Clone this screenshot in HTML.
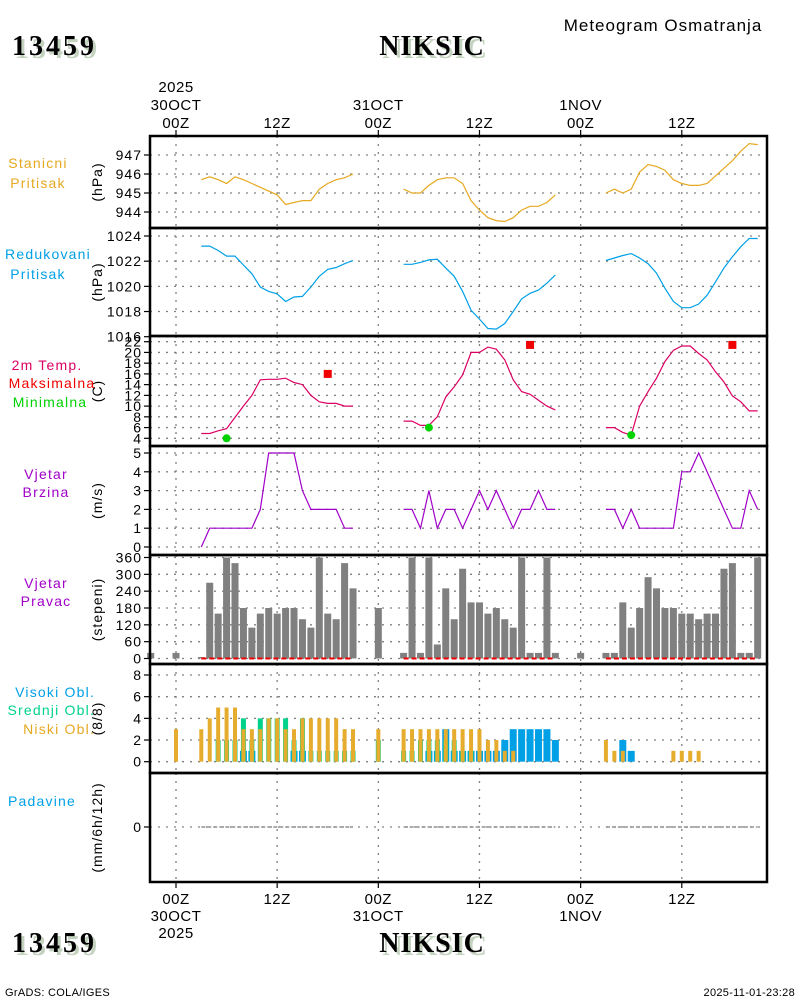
<!DOCTYPE html>
<html><head><meta charset="utf-8"><style>
html,body{margin:0;padding:0;background:#fff;}
svg{display:block;font-family:"Liberation Sans",sans-serif;}
</style></head><body>
<svg id="chart" width="800" height="1000" viewBox="0 0 800 1000" xmlns="http://www.w3.org/2000/svg">
<g id="g-grid"></g>
<g id="g-data"></g>
<g id="g-frame"></g>
<g id="g-text"></g>
</svg>
<script>
// ---- data (hourly, hours from 3 to 69 unless noted) ----
const seriesStartHour = 3;
const stationPressure = [945.7,945.85,945.7,945.5,945.85,945.7,945.5,945.3,945.1,944.9,944.4,944.5,944.6,944.6,945.2,945.5,945.7,945.8,946.0,
 null,null,null,null,null,
 945.2,945.0,945.0,945.4,945.7,945.8,945.8,945.5,944.6,944.1,943.7,943.55,943.5,943.7,944.1,944.3,944.3,944.5,944.9,
 null,null,null,null,null,
 945.0,945.2,945.0,945.2,946.1,946.5,946.4,946.2,945.7,945.5,945.4,945.4,945.5,945.9,946.3,946.7,947.2,947.6,947.55];
const reducedPressure = [1023.2,1023.2,1022.85,1022.4,1022.4,1021.7,1021.0,1019.95,1019.6,1019.4,1018.8,1019.15,1019.2,1019.95,1020.8,1021.35,1021.5,1021.8,1022.05,
 null,null,null,null,null,
 1021.75,1021.75,1021.9,1022.1,1022.15,1021.45,1020.8,1019.6,1018.1,1017.4,1016.65,1016.6,1017.05,1018.0,1019.0,1019.45,1019.7,1020.25,1020.9,
 null,null,null,null,null,
 1022.05,1022.25,1022.45,1022.6,1022.25,1021.8,1021.05,1019.85,1018.8,1018.3,1018.3,1018.6,1019.3,1020.35,1021.45,1022.35,1023.15,1023.8,1023.8];
const temperature = [4.9,4.9,5.4,5.8,7.9,10,12,14.9,15,15,15.2,14.4,14.0,12,10.8,10.5,10.5,10,10,
 null,null,null,null,null,
 7.2,7.2,6.4,6.4,8,11.7,13.6,15.8,20,20,21,20.6,18.6,14.9,12.7,12.2,11.1,10,9.3,
 null,null,null,null,null,
 6,6,5.1,4.6,10,12.7,15.2,18.3,20.4,21.2,21.2,19.8,18.6,16.4,14.5,11.9,10.8,9.1,9.1];
const windSpeed = [0,1,1,1,1,1,1,2,5,5,5,5,3,2,2,2,2,1,1,
 null,null,null,null,null,
 2,2,1,3,1,2,2,1,2,3,2,3,2,1,2,2,3,2,2,
 null,null,null,null,null,
 2,2,1,2,1,1,1,1,1,4,4,5,4,3,2,1,1,3,2];
const maxTempHours = [18,42,66];
const maxTempValues = [16,21.4,21.4];
const minTempHours = [6,30,54];
const minTempValues = [4,6,4.6];
// wind direction & clouds: hourly from -3 to 69
const dirStartHour = -3;
const windDir = [20,null,null,20,null,null,5,270,160,360,340,180,110,160,180,160,180,180,140,110,360,160,140,340,250,
 null,null,180,null,null,20,360,20,360,50,250,140,320,200,200,160,180,140,110,360,20,20,360,20,
 null,null,20,null,null,20,20,200,110,180,290,250,180,180,160,160,140,160,160,320,340,20,20,360];
const cloudLow  = [0,0,0,3,0,0,3,4,5,5,5,3,3,3,4,4,3,3,4,4,4,4,4,3,3,0,0,3,0,0,3,3,3,3,3,3,3,3,3,3,2,2,1,1,0,0,0,0,0,0,0,0,0,0,2,1,1,0,0,0,0,0,1,1,1,1,0,0,0,0,0,0,0];
const cloudMid  = [0,0,0,0,0,0,0,0,2,2,2,4,2,4,4,4,4,2,4,1,1,1,1,1,1,0,0,2,0,0,1,1,2,2,2,2,2,1,1,0,0,0,0,0,0,0,0,0,0,0,0,0,0,0,0,0,0,0,0,0,0,0,0,0,0,0,0,0,0,0,0,0,0];
const cloudHigh = [0,0,0,0,0,0,0,0,0,0,0,1,1,0,0,0,0,1,1,0,0,0,0,0,0,0,0,0,0,0,0,0,0,1,1,3,1,1,1,1,1,1,2,3,3,3,3,3,2,0,0,0,0,0,0,0,2,1,0,0,0,0,0,0,0,0,0,0,0,0,0,0,0];
const precipHours = [[3,21],[27,45],[51,69]];
const timeTicks = [0,12,24,36,48,60];
const timeLabelsTop = [["2025","30OCT","00Z"],["","","12Z"],["","31OCT","00Z"],["","","12Z"],["","1NOV","00Z"],["","","12Z"]];
const timeLabelsBottom = [["00Z","30OCT","2025"],["12Z","",""],["00Z","31OCT",""],["12Z","",""],["00Z","1NOV",""],["12Z","",""]];

// ---- geometry ----
const L=150,R=767;
const xh = h => 176 + h*8.43;
const panels = [
 {top:136,bot:228, min:944,max:947, y0:212,y1:155, ticks:[944,945,946,947], unit:"(hPa)"},
 {top:228,bot:336, min:1016,max:1024, y0:336.7,y1:236, ticks:[1016,1018,1020,1022,1024], unit:"(hPa)"},
 {top:336,bot:446, min:4,max:22, y0:438.3,y1:341.7, ticks:[4,6,8,10,12,14,16,18,20,22], unit:"(C)"},
 {top:446,bot:555, min:0,max:5, y0:547,y1:453, ticks:[0,1,2,3,4,5], unit:"(m/s)"},
 {top:555,bot:664, min:0,max:360, y0:658.5,y1:557.5, ticks:[0,60,120,180,240,300,360], unit:"(stepeni)"},
 {top:664,bot:773, min:0,max:8, y0:761.7,y1:675, ticks:[0,2,4,6,8], unit:"(8/8)"},
 {top:773,bot:882, min:0,max:1, y0:827,y1:800, ticks:[0], unit:"(mm/6h/12h)"}
];
panels.forEach(p=>{p.y=v=>p.y0+(v-p.min)*(p.y1-p.y0)/(p.max-p.min);});
const NS="http://www.w3.org/2000/svg";
function mk(parent,tag,attrs,text){const e=document.createElementNS(NS,tag);for(const k in attrs)e.setAttribute(k,attrs[k]);if(text!==undefined)e.textContent=text;parent.appendChild(e);return e;}
const gG=document.getElementById('g-grid'),gD=document.getElementById('g-data'),gF=document.getElementById('g-frame'),gT=document.getElementById('g-text');

// grid
panels.forEach((p,i)=>{
  timeTicks.forEach(h=>{const e=mk(gG,'line',{x1:xh(h),x2:xh(h),y1:p.top,y2:p.bot,stroke:'#808080','stroke-width':1.3,'stroke-dasharray':'2,6'});
    
    });
  p.ticks.forEach(t=>{const y=p.y(t);
    if(y<p.bot+1){const e=mk(gG,'line',{x1:L,x2:R,y1:y,y2:y,stroke:'#808080','stroke-width':1.3,'stroke-dasharray':'2,6'});
    
    }
    const tk=mk(gF,'line',{x1:144,x2:L,y1:y,y2:y,stroke:'#000','stroke-width':1.2});
    
    
    const lb=mk(gT,'text',{x:142,y:y+5,'text-anchor':'end','font-size':14,'letter-spacing':1,fill:'#000'},String(t));
    
    
  });
  const cy=(p.top+p.bot)/2;
  const u=mk(gT,'text',{x:0,y:0,'text-anchor':'middle','font-size':14,'letter-spacing':1,fill:'#000',transform:`translate(102,${cy}) rotate(-90)`},p.unit);
  
  
});

// line series
function drawLine(p,arr,color,name){
  let d='',pen=false;
  arr.forEach((v,i)=>{const h=seriesStartHour+i;if(v===null){pen=false;return;}
    d+=(pen?'L':'M')+xh(h).toFixed(1)+','+p.y(v).toFixed(1)+' ';pen=true;});
  const e=mk(gD,'path',{d:d,fill:'none',stroke:color,'stroke-width':1.2});
  
  
}
drawLine(panels[0],stationPressure,'#e6a820','station-pressure-line');
drawLine(panels[1],reducedPressure,'#00a0e6','reduced-pressure-line');
drawLine(panels[2],temperature,'#dc0064','temperature-line');
drawLine(panels[3],windSpeed,'#a000c8','wind-speed-line');
maxTempHours.forEach((h,i)=>{const e=mk(gD,'rect',{x:xh(h)-4,y:panels[2].y(maxTempValues[i])-4,width:8,height:8,fill:'#f00000'});
  
  });
minTempHours.forEach((h,i)=>{const e=mk(gD,'circle',{cx:xh(h),cy:panels[2].y(minTempValues[i]),r:4,fill:'#00d200'});
  
  });

// wind direction bars
const pd=panels[4];
windDir.forEach((v,i)=>{if(v===null)return;const h=dirStartHour+i;const y=pd.y(v);
  const e=mk(gD,'rect',{x:xh(h)-3.5,y:y,width:7,height:Math.max(pd.y0-y,1),fill:'#808080'});
  
  });
precipHours.forEach(s=>{
  const e=mk(gD,'line',{x1:xh(s[0]),x2:xh(s[1]),y1:pd.y0,y2:pd.y0,stroke:'#f00000','stroke-width':2,'stroke-dasharray':'5,3'});
  
  
  const pp=panels[6];
  const f=mk(gD,'line',{x1:xh(s[0]),x2:xh(s[1]),y1:pp.y0,y2:pp.y0,stroke:'#909090','stroke-width':1.5,'stroke-dasharray':'4,2'});
  
  
});

// clouds
const pc=panels[5];
function cloudBars(arr,color,off,w,name){arr.forEach((v,i)=>{if(!v)return;const h=dirStartHour+i;const y=pc.y(v);
  const e=mk(gD,'rect',{x:xh(h)+off,y:y,width:w,height:pc.y0-y,fill:color});
  
  });}
cloudBars(cloudHigh,'#00a0e6',-3.5,7,'high-cloud-bar');
cloudBars(cloudMid,'#00d28c',-2.5,5,'mid-cloud-bar');
cloudBars(cloudLow,'#e6ac2e',-2,4,'low-cloud-bar');

// frames
panels.forEach(p=>{const e=mk(gF,'rect',{x:L,y:p.top,width:R-L,height:p.bot-p.top,fill:'none',stroke:'#000','stroke-width':2.5});
  
  });
timeTicks.forEach((h,i)=>{
  const a=mk(gF,'line',{x1:xh(h),x2:xh(h),y1:130,y2:136,stroke:'#000','stroke-width':1.2});
  
  
  const b=mk(gF,'line',{x1:xh(h),x2:xh(h),y1:882,y2:888,stroke:'#000','stroke-width':1.2});
  
  
  timeLabelsTop[i].forEach((s,k)=>{if(!s)return;const t=mk(gT,'text',{x:xh(h),y:92+k*18,'text-anchor':'middle','font-size':15,'letter-spacing':0.5,fill:'#000'},s);
    
    });
  timeLabelsBottom[i].forEach((s,k)=>{if(!s)return;const t=mk(gT,'text',{x:xh(h),y:904+k*17,'text-anchor':'middle','font-size':15,'letter-spacing':0.5,fill:'#000'},s);
    
    });
});
</script>
<svg width="800" height="1000" style="position:absolute;left:0;top:0" xmlns="http://www.w3.org/2000/svg">
<g font-family="Liberation Sans, sans-serif" font-size="14" letter-spacing="1.2">
<text x="663" y="31" text-anchor="middle" font-size="17" letter-spacing="1">Meteogram Osmatranja</text>
<g font-family="Liberation Serif, serif" font-weight="bold" font-size="28" letter-spacing="3">
<text x="15" y="58" fill="#c4d2c0">13459</text>
<text x="12" y="55" fill="#000">13459</text>
<text x="435" y="58" text-anchor="middle" fill="#c4d2c0" letter-spacing="1">NIKSIC</text>
<text x="432" y="55" text-anchor="middle" fill="#000" letter-spacing="1">NIKSIC</text>
<text x="15" y="955" fill="#c4d2c0">13459</text>
<text x="12" y="952" fill="#000">13459</text>
<text x="435" y="955" text-anchor="middle" fill="#c4d2c0" letter-spacing="1">NIKSIC</text>
<text x="432" y="952" text-anchor="middle" fill="#000" letter-spacing="1">NIKSIC</text>
</g>
<g text-anchor="middle">
<text x="38" y="168" fill="#e6a820">Stanicni</text>
<text x="38" y="188" fill="#e6a820">Pritisak</text>
<text x="48" y="259" fill="#00a0e6">Redukovani</text>
<text x="38" y="279" fill="#00a0e6">Pritisak</text>
<text x="47" y="370" fill="#dc0064">2m Temp.</text>
<text x="52" y="388" fill="#f00000">Maksimalna</text>
<text x="50" y="407" fill="#00d200">Minimalna</text>
<text x="46" y="479" fill="#a000c8">Vjetar</text>
<text x="46" y="497" fill="#a000c8">Brzina</text>
<text x="46" y="588" fill="#a000c8">Vjetar</text>
<text x="46" y="606" fill="#a000c8">Pravac</text>
<text x="42" y="806" fill="#00a0e6">Padavine</text>
</g>
<g text-anchor="end">
<text x="95" y="697" fill="#00a0e6">Visoki Obl.</text>
<text x="95" y="715" fill="#00d28c">Srednji Obl.</text>
<text x="95" y="734" fill="#e6a820">Niski Obl.</text>
</g>
<text x="5" y="996" font-size="11" letter-spacing="0.3">GrADS: COLA/IGES</text>
<text x="795" y="996" font-size="11" letter-spacing="0.3" text-anchor="end">2025-11-01-23:28</text>
</g>
</svg>
</body></html>
